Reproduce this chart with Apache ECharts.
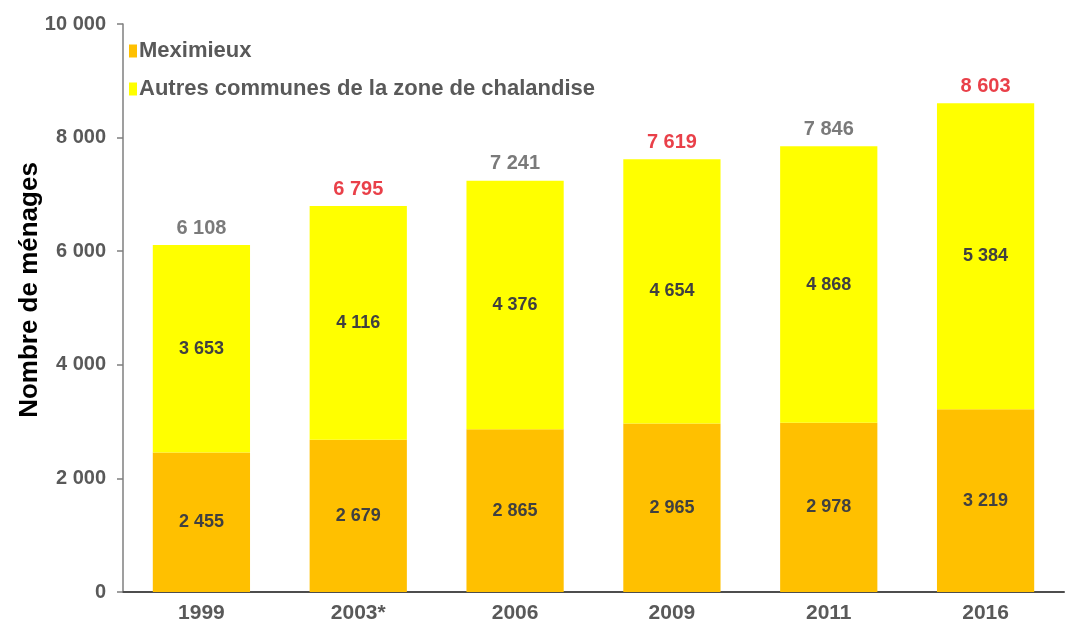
<!DOCTYPE html>
<html>
<head>
<meta charset="utf-8">
<script src="https://cdn.jsdelivr.net/npm/echarts@6/dist/echarts.min.js"></script>
<style>
  html, body { margin: 0; padding: 0; background: #fff; }
  #chart { width: 1072px; height: 626px; }
</style>
</head>
<body>
<div id="chart"></div>
<script>
const years = ['1999', '2003*', '2006', '2009', '2011', '2016']
const meximieux = [2455, 2679, 2865, 2965, 2978, 3219]
const autres = [3653, 4116, 4376, 4654, 4868, 5384]
const totals = [6108, 6795, 7241, 7619, 7846, 8603]
// totals drawn in red in the original
const highlighted = ['2003*', '2009', '2016']

function fmt(v) {
    return String(v).replace(/\B(?=(\d{3})+(?!\d))/g, ' ')
}

const font = '"Liberation Sans", Arial, sans-serif'

let chart = echarts.init(document.getElementById('chart'))
chart.setOption({
    animation: false,
    textStyle: { fontFamily: font },
    legend: {
        orient: 'vertical',
        left: 124,
        top: 35,
        itemGap: 16,
        itemWidth: 8,
        itemHeight: 13,
        icon: 'rect',
        data: ['Meximieux', 'Autres communes de la zone de chalandise'],
        textStyle: { fontSize: 22, fontWeight: 'bold', color: '#595959', fontFamily: font, padding: [0, 0, 0, -3] }
    },
    grid: { left: 123, right: 8, top: 24, bottom: 34 },
    xAxis: {
        type: 'category',
        data: years,
        axisLine: { lineStyle: { color: '#4d4d4d', width: 2 } },
        axisTick: { length: 7, lineStyle: { color: '#4d4d4d', width: 1.5 } },
        axisLabel: { margin: 11, fontSize: 21, fontWeight: 'bold', color: '#595959', fontFamily: font }
    },
    yAxis: {
        type: 'value',
        min: 0,
        max: 10000,
        interval: 2000,
        name: 'Nombre de ménages',
        nameLocation: 'middle',
        nameGap: 80,
        nameMoveOverlap: false,
        nameTextStyle: { fontSize: 26, fontWeight: 'bold', color: '#000', fontFamily: font, padding: [0, 0, 0, 36] },
        axisLine: { show: true, lineStyle: { color: '#7f7f7f', width: 1.5 } },
        axisTick: { show: true, length: 6, lineStyle: { color: '#7f7f7f', width: 1.5 } },
        splitLine: { show: false },
        axisLabel: { margin: 17, fontSize: 20, fontWeight: 'bold', color: '#595959', fontFamily: font, formatter: fmt }
    },
    series: [
        {
            name: 'Meximieux',
            type: 'bar',
            stack: 'total',
            barWidth: '62%',
            data: meximieux,
            itemStyle: { color: '#ffc000' },
            label: {
                show: true,
                position: 'inside',
                fontSize: 18,
                fontWeight: 'bold',
                color: '#404040',
                fontFamily: font,
                formatter: p => fmt(p.value)
            }
        },
        {
            name: 'Autres communes de la zone de chalandise',
            type: 'bar',
            stack: 'total',
            data: autres,
            itemStyle: { color: '#ffff00' },
            label: {
                show: true,
                position: 'inside',
                fontSize: 18,
                fontWeight: 'bold',
                color: '#404040',
                fontFamily: font,
                formatter: p => fmt(p.value)
            }
        },
        {
            name: 'total',
            type: 'scatter',
            symbolSize: 0,
            silent: true,
            data: totals.map((v, i) => highlighted.includes(years[i])
                ? { value: v, label: { color: '#e3101b' } }
                : v),
            label: {
                show: true,
                position: 'top',
                distance: 7,
                fontSize: 20,
                fontWeight: 'bold',
                fontFamily: font,
                formatter: p => fmt(p.value),
                color: '#595959'
            }
        }
    ]
})
</script>
</body>
</html>
